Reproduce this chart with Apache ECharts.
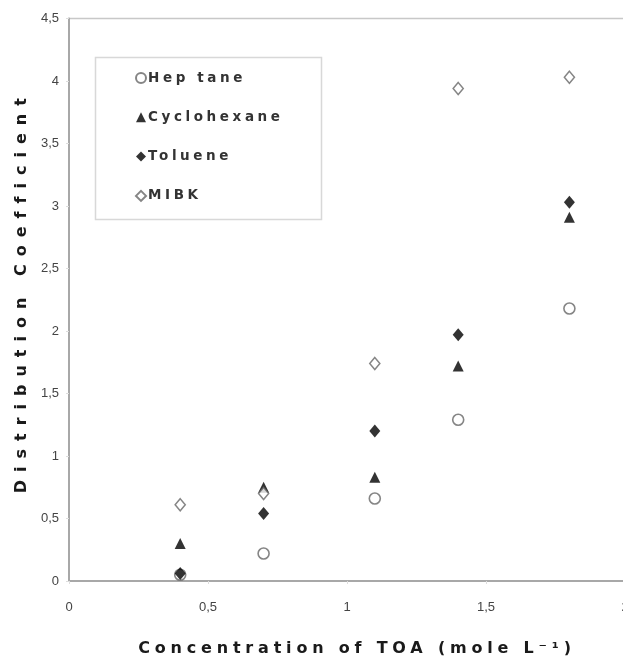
<!DOCTYPE html>
<html>
<head>
<meta charset="utf-8">
<script src="https://cdn.jsdelivr.net/npm/echarts@6/dist/echarts.min.js"></script>
<style>
html,body{margin:0;padding:0;background:#fff;}
#c{width:623px;height:663px;}
</style>
</head>
<body>
<div id="c"></div>
<script>
var concentrations = [0.4, 0.7, 1.1, 1.4, 1.8];
var heptane     = [0.05, 0.22, 0.66, 1.29, 2.18];
var cyclohexane = [0.30, 0.75, 0.83, 1.72, 2.91];
var toluene     = [0.06, 0.54, 1.20, 1.97, 3.03];
var mibk        = [0.61, 0.70, 1.74, 3.94, 4.03];
var seriesNames = ['Hep tane', 'Cyclohexane', 'Toluene', 'MIBK'];
var xTitle = 'Concentration of TOA (mole L\u207B\u00B9)';
var yTitle = 'Distribution Coefficient';

// wide letter spacing for titles and legend (scanned-chart look)
var spacing = {};
spacing[xTitle] = '4.8px';
spacing[yTitle] = '8px';
seriesNames.forEach(function(n){ spacing[n] = '3.6px'; });
(function(){
  var P = CanvasRenderingContext2D.prototype;
  var orig = P.fillText;
  P.fillText = function(t){
    if ('letterSpacing' in this) {
      this.letterSpacing = spacing[t] || '0px';
    }
    return orig.apply(this, arguments);
  };
})();

function pairs(ys){ return concentrations.map(function(x,i){ return [x, ys[i]]; }); }
function fmt(v){ return String(v).replace('.', ','); }

var chart = echarts.init(document.getElementById('c'), null, {renderer:'canvas'});
var axisCol = '#a8a8a8';
var labelStyle = {color:'#444', fontFamily:'Liberation Sans', fontSize:13};
chart.setOption({
  animation:false,
  backgroundColor:'#fff',
  grid:{left:69, top:18.5, right:-2, bottom:82, show:true, borderColor:'#c8c8c8', borderWidth:1.5,
        containLabel:false, outerBoundsMode:'none'},
  xAxis:{
    type:'value', min:0, max:2, interval:0.5,
    axisLine:{show:true, lineStyle:{color:axisCol, width:2}},
    axisTick:{show:true, length:3, lineStyle:{color:'#ddd'}},
    splitLine:{show:false},
    axisLabel:Object.assign({margin:20, formatter:fmt}, labelStyle),
    name:xTitle,
    nameLocation:'middle', nameGap:60,
    nameTextStyle:{fontFamily:'DejaVu Sans', fontWeight:'bold', fontSize:16, color:'#1a1a1a',
                   padding:[0,0,0,20]}
  },
  yAxis:{
    type:'value', min:0, max:4.5, interval:0.5,
    axisLine:{show:true, lineStyle:{color:axisCol, width:2}},
    axisTick:{show:true, length:3, lineStyle:{color:'#ddd'}},
    splitLine:{show:false},
    axisLabel:Object.assign({margin:10, formatter:fmt}, labelStyle),
    name:yTitle,
    nameLocation:'middle', nameGap:38,
    nameTextStyle:{fontFamily:'DejaVu Sans', fontWeight:'bold', fontSize:16, color:'#1a1a1a',
                   padding:[0,0,0,16]}
  },
  legend:{
    orient:'vertical', left:130, top:66, itemGap:25.3, itemWidth:10, itemHeight:10,
    textStyle:{fontFamily:'DejaVu Sans', fontWeight:'bold', fontSize:13.5, color:'#333', padding:[0,0,0,-3]},
    data:seriesNames
  },
  graphic:[{
    type:'rect', left:93, top:55, shape:{width:226, height:162},
    style:{fill:'none', stroke:'#d8d8d8', lineWidth:1.5}, z:-1
  }],
  series:[
    {name:seriesNames[0], type:'scatter', data:pairs(heptane), symbol:'circle', symbolSize:11,
     itemStyle:{color:'#fff', borderColor:'#666', borderWidth:1.6}, z:2},
    {name:seriesNames[1], type:'scatter', data:pairs(cyclohexane), symbol:'triangle', symbolSize:11,
     itemStyle:{color:'#000'}, z:3},
    {name:seriesNames[2], type:'scatter', data:pairs(toluene), symbol:'diamond', symbolSize:[11,13],
     itemStyle:{color:'#000'}, z:4},
    {name:seriesNames[3], type:'scatter', data:pairs(mibk), symbol:'diamond', symbolSize:[10,12],
     itemStyle:{color:'#fff', borderColor:'#666', borderWidth:1.6}, z:5}
  ]
});
</script>
</body>
</html>
